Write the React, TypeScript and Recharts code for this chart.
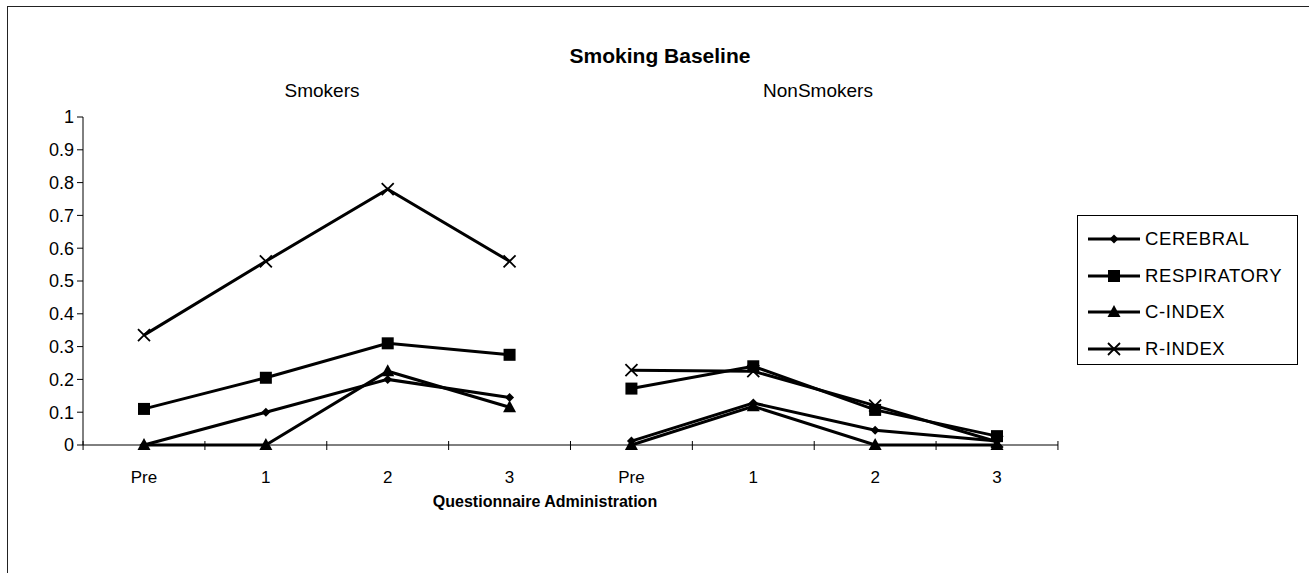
import React from "react"
import { LineChart, Line, XAxis, YAxis, Legend } from "recharts"

const categories = ["Pre", "1", "2", "3", "Pre", "1", "2", "3"]
const yTicks = [0, 0.1, 0.2, 0.3, 0.4, 0.5, 0.6, 0.7, 0.8, 0.9, 1]

// smokers (first four categories)
const cerebralSmokers = [0, 0.1, 0.2, 0.145]
const respiratorySmokers = [0.11, 0.205, 0.31, 0.275]
const cIndexSmokers = [0, 0, 0.225, 0.115]
const rIndexSmokers = [0.335, 0.56, 0.78, 0.56]

// non smokers (last four categories)
const cerebralNon = [0.012, 0.128, 0.045, 0.012]
const respiratoryNon = [0.172, 0.24, 0.107, 0.027]
const cIndexNon = [0, 0.118, 0, 0]
const rIndexNon = [0.228, 0.225, 0.12, 0.01]

const data = categories.map((cat, i) => {
  const s = i < 4
  const j = s ? i : i - 4
  return {
    cat,
    cerebralS: s ? cerebralSmokers[j] : undefined,
    respiratoryS: s ? respiratorySmokers[j] : undefined,
    cIndexS: s ? cIndexSmokers[j] : undefined,
    rIndexS: s ? rIndexSmokers[j] : undefined,
    cerebralN: s ? undefined : cerebralNon[j],
    respiratoryN: s ? undefined : respiratoryNon[j],
    cIndexN: s ? undefined : cIndexNon[j],
    rIndexN: s ? undefined : rIndexNon[j],
  }
})

const FONT = "'Liberation Sans', Arial, sans-serif"

type Marker = "diamond" | "square" | "triangle" | "cross"

function markerShape(kind: Marker, cx: number, cy: number, key?: string) {
  if (kind === "diamond")
    return <path key={key} d={`M${cx},${cy - 4.5}L${cx + 4.5},${cy}L${cx},${cy + 4.5}L${cx - 4.5},${cy}Z`} fill="#000" />
  if (kind === "square")
    return <rect key={key} x={cx - 6} y={cy - 6} width={12} height={12} fill="#000" />
  if (kind === "triangle")
    return <path key={key} d={`M${cx},${cy - 7}L${cx + 6.5},${cy + 5}L${cx - 6.5},${cy + 5}Z`} fill="#000" />
  return (
    <path key={key} d={`M${cx - 6},${cy - 6}L${cx + 6},${cy + 6}M${cx - 6},${cy + 6}L${cx + 6},${cy - 6}`} stroke="#000" strokeWidth={1.8} fill="none" />
  )
}

const makeDot = (kind: Marker) => (props: any) => {
  const { cx, cy, index, value } = props
  if (cx == null || cy == null || value == null) return <g key={`e-${kind}-${index}`} />
  return markerShape(kind, cx, cy, `d-${kind}-${index}`)
}

const series: { name: string; marker: Marker; s: string; n: string }[] = [
  { name: "CEREBRAL", marker: "diamond", s: "cerebralS", n: "cerebralN" },
  { name: "RESPIRATORY", marker: "square", s: "respiratoryS", n: "respiratoryN" },
  { name: "C-INDEX", marker: "triangle", s: "cIndexS", n: "cIndexN" },
  { name: "R-INDEX", marker: "cross", s: "rIndexS", n: "rIndexN" },
]

// category label plus Excel-style tick marks between the categories
function CategoryTick(props: any) {
  const { x, y, payload, index, width } = props
  const step = (typeof width === "number" && width > 0 ? width : 975) / categories.length
  const last = index === categories.length - 1
  return (
    <g>
      <line x1={x - step / 2} y1={y - 4} x2={x - step / 2} y2={y + 5} stroke="#000" />
      {last && <line x1={x + step / 2} y1={y - 4} x2={x + step / 2} y2={y + 5} stroke="#000" />}
      <text x={x} y={y + 38} textAnchor="middle" fill="#000" fontSize={17} fontFamily={FONT}>
        {payload.value}
      </text>
    </g>
  )
}

function LegendBox() {
  return (
    <div style={{ border: "1px solid #000", width: 221, height: 150, boxSizing: "border-box", paddingTop: 5, fontFamily: FONT, background: "#fff" }}>
      {series.map((s) => (
        <div key={s.name} style={{ display: "flex", alignItems: "center", height: 36.5 }}>
          <svg width={56} height={16} style={{ marginLeft: 10 }}>
            <line x1={0} y1={8} x2={52} y2={8} stroke="#000" strokeWidth={3} />
            {markerShape(s.marker, 26, 8)}
          </svg>
          <span style={{ fontSize: 18.5, letterSpacing: 0.6, marginLeft: 1 }}>{s.name}</span>
        </div>
      ))}
    </div>
  )
}

function Label({ x, y, children, bold, size = 17 }: { x: number; y: number; children: React.ReactNode; bold?: boolean; size?: number }) {
  return (
    <div
      style={{
        position: "absolute",
        left: x,
        top: y,
        transform: "translateX(-50%)",
        whiteSpace: "nowrap",
        fontFamily: FONT,
        fontSize: size,
        fontWeight: bold ? 700 : 400,
        lineHeight: 1,
        color: "#000",
      }}
    >
      {children}
    </div>
  )
}

export default function App() {
  return (
    <div style={{ position: "absolute", left: 0, top: 0, width: 1309, height: 573, background: "#fff" }}>
      <div style={{ position: "absolute", left: 7, top: 6, width: 1302, height: 567, borderLeft: "1.5px solid #222", borderTop: "1.5px solid #222" }} />
      <LineChart width={1309} height={573} data={data} margin={{ top: 117, right: 251, bottom: 98, left: 0 }} style={{ position: "absolute", left: 0, top: 0 }}>
        <XAxis dataKey="cat" padding={{ left: 61, right: 61 }} tickLine={false} tickSize={0} tickMargin={0} axisLine={{ stroke: "#000" }} height={30} tick={<CategoryTick />} interval={0} />
        <YAxis domain={[0, 1]} ticks={yTicks} width={83} axisLine={{ stroke: "#000" }} tickLine={{ stroke: "#000" }} tickSize={6} tickMargin={3} tick={{ fill: "#000", fontSize: 18, fontFamily: FONT }} interval={0} />
        <Legend layout="vertical" align="center" verticalAlign="middle" wrapperStyle={{ left: 1077, top: 215, width: 221 }} content={() => <LegendBox />} />
        {series.map((s) => (
          <Line key={s.s} dataKey={s.s} name={s.name} stroke="#000" strokeWidth={3} dot={makeDot(s.marker)} activeDot={false} isAnimationActive={false} legendType="none" />
        ))}
        {series.map((s) => (
          <Line key={s.n} dataKey={s.n} name={s.name} stroke="#000" strokeWidth={3} dot={makeDot(s.marker)} activeDot={false} isAnimationActive={false} legendType="none" />
        ))}
      </LineChart>
      <Label x={660} y={45} bold size={21}>Smoking Baseline</Label>
      <Label x={322} y={81} size={19}>Smokers</Label>
      <Label x={818} y={81} size={19}>NonSmokers</Label>
      <Label x={545} y={494} bold size={16}>Questionnaire Administration</Label>
    </div>
  )
}
